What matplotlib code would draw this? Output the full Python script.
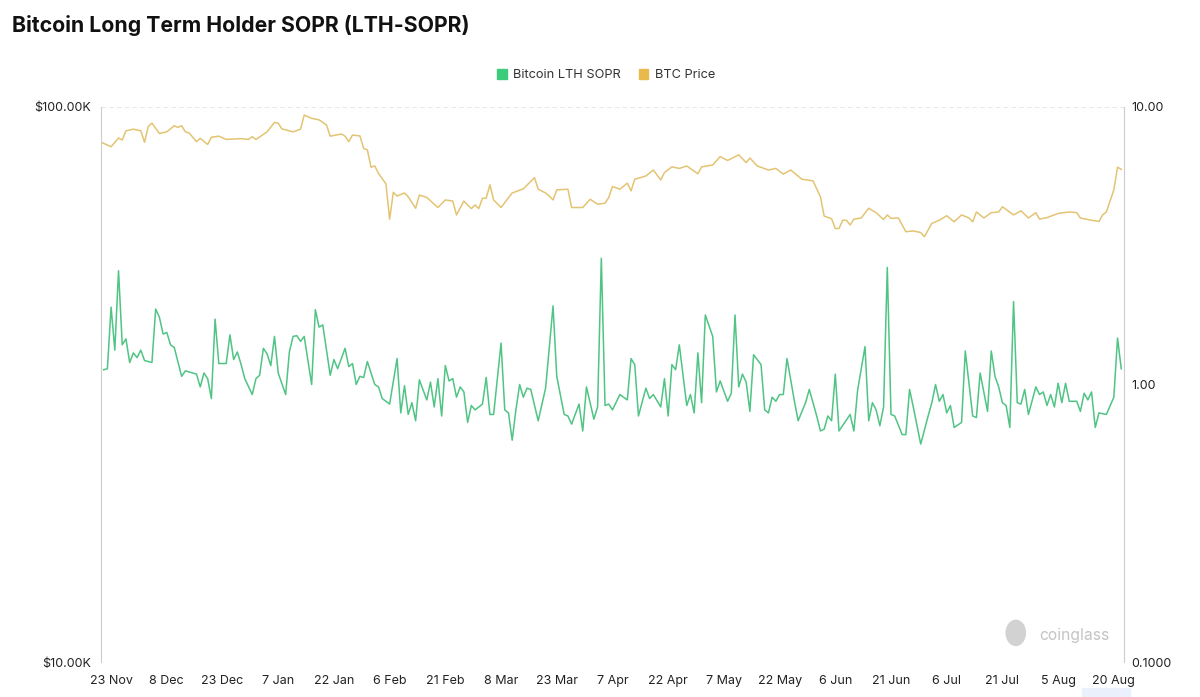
import matplotlib.pyplot as plt
import matplotlib.dates as mdates
from matplotlib.patches import Patch, Ellipse, Rectangle
import numpy as np

# BTC price (USD)
price_dates = [
    "2024-11-20", "2024-11-23", "2024-11-25", "2024-11-26", "2024-11-27", "2024-11-29",
    "2024-12-01", "2024-12-02", "2024-12-03", "2024-12-04", "2024-12-06", "2024-12-08",
    "2024-12-10", "2024-12-11", "2024-12-12", "2024-12-13", "2024-12-14", "2024-12-16",
    "2024-12-17", "2024-12-19", "2024-12-20", "2024-12-22", "2024-12-24", "2024-12-28",
    "2024-12-30", "2024-12-31", "2025-01-01", "2025-01-04", "2025-01-06", "2025-01-07",
    "2025-01-08", "2025-01-11", "2025-01-13", "2025-01-14", "2025-01-16", "2025-01-18",
    "2025-01-20", "2025-01-21", "2025-01-24", "2025-01-25", "2025-01-26", "2025-01-27",
    "2025-01-29", "2025-01-30", "2025-01-31", "2025-02-01", "2025-02-02", "2025-02-03",
    "2025-02-05", "2025-02-06", "2025-02-07", "2025-02-08", "2025-02-10", "2025-02-11",
    "2025-02-13", "2025-02-14", "2025-02-16", "2025-02-19", "2025-02-21", "2025-02-23",
    "2025-02-24", "2025-02-26", "2025-02-27", "2025-02-28", "2025-03-01", "2025-03-02",
    "2025-03-03", "2025-03-04", "2025-03-05", "2025-03-06", "2025-03-08", "2025-03-11",
    "2025-03-14", "2025-03-17", "2025-03-18", "2025-03-20", "2025-03-21", "2025-03-22",
    "2025-03-23", "2025-03-26", "2025-03-27", "2025-03-30", "2025-04-01", "2025-04-03",
    "2025-04-05", "2025-04-06", "2025-04-07", "2025-04-09", "2025-04-11", "2025-04-12",
    "2025-04-13", "2025-04-16", "2025-04-18", "2025-04-20", "2025-04-21", "2025-04-23",
    "2025-04-25", "2025-04-27", "2025-04-30", "2025-05-01", "2025-05-04", "2025-05-06",
    "2025-05-08", "2025-05-11", "2025-05-13", "2025-05-14", "2025-05-16", "2025-05-19",
    "2025-05-21", "2025-05-23", "2025-05-25", "2025-05-28", "2025-05-31", "2025-06-02",
    "2025-06-03", "2025-06-05", "2025-06-06", "2025-06-07", "2025-06-08", "2025-06-09",
    "2025-06-10", "2025-06-11", "2025-06-13", "2025-06-15", "2025-06-17", "2025-06-19",
    "2025-06-20", "2025-06-21", "2025-06-23", "2025-06-25", "2025-06-27", "2025-06-29",
    "2025-06-30", "2025-07-02", "2025-07-04", "2025-07-06", "2025-07-08", "2025-07-10",
    "2025-07-12", "2025-07-13", "2025-07-14", "2025-07-16", "2025-07-18", "2025-07-20",
    "2025-07-21", "2025-07-24", "2025-07-26", "2025-07-28", "2025-07-30", "2025-07-31",
    "2025-08-02", "2025-08-05", "2025-08-08", "2025-08-10", "2025-08-11", "2025-08-14",
    "2025-08-16", "2025-08-17", "2025-08-18", "2025-08-20", "2025-08-21", "2025-08-22",
]
price_values = [
    86600, 84800, 87900, 87200, 90600, 91200,
    90600, 86400, 92200, 93500, 89600, 90200,
    92500, 91900, 92500, 90200, 89800, 86600,
    87800, 85600, 88200, 88600, 87400, 87700,
    87400, 88400, 87400, 90200, 93800, 93500,
    91300, 90200, 91200, 96700, 95400, 94800,
    92800, 88600, 89400, 88600, 86600, 89000,
    88700, 84200, 83700, 77900, 78300, 75900,
    72700, 62800, 70200, 69100, 70000, 68900,
    65700, 69400, 68700, 65900, 68000, 67700,
    63900, 67700, 66600, 65600, 66600, 65600,
    68500, 68500, 72400, 68000, 65900, 70000,
    71200, 74600, 71100, 70000, 69100, 68000,
    70900, 71100, 65900, 65900, 68200, 66800,
    67100, 68700, 71900, 71100, 72900, 70600,
    74100, 75100, 77000, 73900, 76200, 78000,
    77500, 78300, 75800, 78000, 78600, 81400,
    80100, 82000, 79400, 80900, 78300, 77000,
    77500, 75700, 77000, 74100, 73600, 68900,
    63600, 62900, 60400, 60400, 62500, 62500,
    61300, 62800, 63100, 65700, 64500, 62700,
    63900, 63000, 63100, 59600, 59800, 59400,
    58400, 61700, 62500, 63700, 62100, 63900,
    63100, 62100, 64700, 63100, 64500, 64700,
    66100, 63900, 65000, 63100, 64500, 62800,
    63200, 64300, 64700, 64500, 63100, 62500,
    62200, 63900, 64700, 70900, 77900, 77200,
]

# Bitcoin LTH SOPR
sopr_dates = [
    "2024-11-21", "2024-11-22", "2024-11-23", "2024-11-24", "2024-11-25", "2024-11-26",
    "2024-11-27", "2024-11-28", "2024-11-29", "2024-11-30", "2024-12-01", "2024-12-02",
    "2024-12-04", "2024-12-05", "2024-12-06", "2024-12-07", "2024-12-08", "2024-12-09",
    "2024-12-10", "2024-12-12", "2024-12-13", "2024-12-16", "2024-12-17", "2024-12-18",
    "2024-12-19", "2024-12-20", "2024-12-21", "2024-12-22", "2024-12-24", "2024-12-25",
    "2024-12-26", "2024-12-27", "2024-12-28", "2024-12-29", "2024-12-31", "2025-01-01",
    "2025-01-02", "2025-01-03", "2025-01-04", "2025-01-05", "2025-01-06", "2025-01-07",
    "2025-01-09", "2025-01-10", "2025-01-11", "2025-01-12", "2025-01-13", "2025-01-14",
    "2025-01-16", "2025-01-17", "2025-01-18", "2025-01-19", "2025-01-21", "2025-01-22",
    "2025-01-23", "2025-01-25", "2025-01-26", "2025-01-27", "2025-01-28", "2025-01-29",
    "2025-01-30", "2025-01-31", "2025-02-02", "2025-02-03", "2025-02-04", "2025-02-06",
    "2025-02-08", "2025-02-09", "2025-02-10", "2025-02-11", "2025-02-12", "2025-02-13",
    "2025-02-14", "2025-02-16", "2025-02-17", "2025-02-18", "2025-02-19", "2025-02-20",
    "2025-02-21", "2025-02-22", "2025-02-23", "2025-02-24", "2025-02-25", "2025-02-26",
    "2025-02-27", "2025-02-28", "2025-03-01", "2025-03-03", "2025-03-04", "2025-03-05",
    "2025-03-06", "2025-03-08", "2025-03-09", "2025-03-10", "2025-03-11", "2025-03-12",
    "2025-03-13", "2025-03-14", "2025-03-15", "2025-03-16", "2025-03-18", "2025-03-20",
    "2025-03-22", "2025-03-23", "2025-03-25", "2025-03-26", "2025-03-27", "2025-03-29",
    "2025-03-30", "2025-03-31", "2025-04-02", "2025-04-03", "2025-04-04", "2025-04-05",
    "2025-04-06", "2025-04-07", "2025-04-09", "2025-04-11", "2025-04-12", "2025-04-13",
    "2025-04-14", "2025-04-16", "2025-04-17", "2025-04-18", "2025-04-20", "2025-04-21",
    "2025-04-22", "2025-04-23", "2025-04-24", "2025-04-25", "2025-04-27", "2025-04-28",
    "2025-04-29", "2025-04-30", "2025-05-01", "2025-05-02", "2025-05-04", "2025-05-05",
    "2025-05-06", "2025-05-08", "2025-05-09", "2025-05-10", "2025-05-11", "2025-05-12",
    "2025-05-13", "2025-05-14", "2025-05-15", "2025-05-17", "2025-05-18", "2025-05-19",
    "2025-05-20", "2025-05-21", "2025-05-22", "2025-05-23", "2025-05-24", "2025-05-26",
    "2025-05-27", "2025-05-29", "2025-05-30", "2025-06-01", "2025-06-02", "2025-06-03",
    "2025-06-04", "2025-06-05", "2025-06-06", "2025-06-07", "2025-06-10", "2025-06-11",
    "2025-06-12", "2025-06-14", "2025-06-15", "2025-06-16", "2025-06-17", "2025-06-18",
    "2025-06-19", "2025-06-20", "2025-06-21", "2025-06-22", "2025-06-24", "2025-06-25",
    "2025-06-26", "2025-06-27", "2025-06-29", "2025-07-01", "2025-07-02", "2025-07-03",
    "2025-07-04", "2025-07-05", "2025-07-06", "2025-07-07", "2025-07-08", "2025-07-10",
    "2025-07-11", "2025-07-13", "2025-07-14", "2025-07-15", "2025-07-17", "2025-07-18",
    "2025-07-19", "2025-07-20", "2025-07-21", "2025-07-22", "2025-07-23", "2025-07-24",
    "2025-07-25", "2025-07-26", "2025-07-27", "2025-07-28", "2025-07-30", "2025-07-31",
    "2025-08-01", "2025-08-02", "2025-08-03", "2025-08-04", "2025-08-05", "2025-08-06",
    "2025-08-07", "2025-08-08", "2025-08-10", "2025-08-11", "2025-08-12", "2025-08-13",
    "2025-08-14", "2025-08-15", "2025-08-16", "2025-08-18", "2025-08-20", "2025-08-21",
    "2025-08-22",
]
sopr_values = [
    1.13, 1.14, 1.90, 1.33, 2.57, 1.39,
    1.46, 1.20, 1.30, 1.25, 1.33, 1.22,
    1.20, 1.87, 1.75, 1.52, 1.54, 1.39,
    1.36, 1.07, 1.12, 1.09, 0.98, 1.10,
    1.05, 0.89, 1.72, 1.19, 1.19, 1.51,
    1.23, 1.31, 1.18, 1.05, 0.92, 1.05,
    1.08, 1.35, 1.29, 1.17, 1.49, 1.10,
    0.92, 1.31, 1.49, 1.50, 1.43, 1.49,
    1.00, 1.86, 1.61, 1.64, 1.08, 1.23,
    1.14, 1.35, 1.16, 1.19, 1.00, 1.07,
    1.06, 1.21, 1.00, 0.98, 0.89, 0.85,
    1.24, 0.79, 0.99, 0.78, 0.86, 0.74,
    1.04, 0.88, 1.02, 0.83, 1.05, 0.77,
    1.17, 1.03, 1.05, 0.90, 0.98, 0.94,
    0.73, 0.84, 0.81, 0.85, 1.06, 0.78,
    0.78, 1.41, 0.81, 0.79, 0.63, 0.81,
    1.00, 0.90, 0.97, 0.96, 0.74, 0.97,
    1.92, 1.07, 0.78, 0.77, 0.72, 0.85,
    0.68, 0.98, 0.75, 0.83, 2.85, 0.84,
    0.85, 0.81, 0.92, 0.88, 1.24, 1.18,
    0.77, 0.97, 0.89, 0.92, 0.83, 1.05,
    0.77, 1.18, 1.13, 1.39, 0.84, 0.92,
    0.79, 1.30, 0.86, 1.78, 1.49, 0.94,
    1.03, 0.87, 0.93, 1.78, 0.98, 1.09,
    1.02, 0.80, 1.28, 1.18, 0.81, 0.79,
    0.90, 0.87, 0.92, 0.92, 1.24, 0.87,
    0.74, 0.86, 0.96, 0.77, 0.68, 0.69,
    0.77, 0.74, 1.09, 0.68, 0.78, 0.68,
    0.95, 1.37, 0.74, 0.86, 0.81, 0.71,
    0.83, 2.64, 0.78, 0.77, 0.66, 0.66,
    0.96, 0.83, 0.61, 0.77, 0.86, 1.00,
    0.87, 0.92, 0.79, 0.84, 0.70, 0.73,
    1.32, 0.77, 0.76, 1.10, 0.80, 1.32,
    1.07, 0.98, 0.86, 0.84, 0.70, 1.99,
    0.86, 0.85, 0.96, 0.78, 0.98, 0.92,
    0.94, 0.84, 0.92, 0.83, 1.01, 0.86,
    1.01, 0.87, 0.87, 0.80, 0.93, 0.88,
    0.94, 0.70, 0.79, 0.78, 0.90, 1.47,
    1.14,
]

tick_dates = [
    "2024-11-23", "2024-12-08", "2024-12-23", "2025-01-07", "2025-01-22",
    "2025-02-06", "2025-02-21", "2025-03-08", "2025-03-23", "2025-04-07",
    "2025-04-22", "2025-05-07", "2025-05-22", "2025-06-06", "2025-06-21",
    "2025-07-06", "2025-07-21", "2025-08-05", "2025-08-20",
]

plt.rcParams['font.family'] = ['Inter', 'DejaVu Sans']

fig = plt.figure(figsize=(12, 6.97), dpi=100)
ax = fig.add_axes([0.0842, 0.0502, 0.8525, 0.7963])
ax2 = ax.twinx()

px = np.array(price_dates, dtype='datetime64[D]')
sx = np.array(sopr_dates, dtype='datetime64[D]')

ax.plot(px, price_values, color='#e3c473', lw=1.1, solid_joinstyle='round')
ax2.plot(sx, sopr_values, color='#4fc484', lw=1.1, solid_joinstyle='round')

# left axis: price, log
ax.set_yscale('log')
ax.set_ylim(1e4, 1e5)
ax.set_yticks([1e4, 1e5])
ax.set_yticklabels(['$10.00K', '$100.00K'])
ax.yaxis.set_minor_locator(plt.NullLocator())
ax.grid(axis='y', linestyle=(0, (4, 3)), color='#e8e8e8', lw=0.8)

# right axis: SOPR, log
ax2.set_yscale('log')
ax2.set_ylim(0.1, 10)
ax2.set_yticks([0.1, 1, 10])
ax2.set_yticklabels(['0.1000', '1.00', '10.00'])
ax2.yaxis.set_minor_locator(plt.NullLocator())

ax.set_xlim(np.datetime64('2024-11-20T07:00'), np.datetime64('2025-08-22T18:00'))
ax.set_xticks(np.array(tick_dates, dtype='datetime64[D]'))
ax.xaxis.set_major_formatter(mdates.DateFormatter('%-d %b'))
ax.xaxis.set_minor_locator(plt.NullLocator())

for a in (ax, ax2):
    a.spines['top'].set_visible(False)
    a.spines['bottom'].set_visible(False)
    a.tick_params(length=0, labelsize=9, colors='#222222')
ax.spines['left'].set_color('#cccccc')
ax.spines['right'].set_visible(False)
ax2.spines['left'].set_visible(False)
ax2.spines['right'].set_color('#cccccc')
ax.tick_params(axis='y', pad=7)
ax.tick_params(axis='x', pad=9)
ax2.tick_params(axis='y', pad=5)

fig.text(0.01, 0.963, 'Bitcoin Long Term Holder SOPR (LTH-SOPR)',
         fontsize=15.3, fontweight='bold', va='center', color='#111111')

handles = [Patch(color='#3dcb7c', label='Bitcoin LTH SOPR'),
           Patch(color='#e9b94c', label='BTC Price')]
fig.legend(handles=handles, loc='center', bbox_to_anchor=(0.505, 0.892), ncol=2,
           frameon=False, fontsize=9.2, handlelength=0.75, handleheight=0.75,
           handletextpad=0.5, columnspacing=1.4, labelcolor='#333333')

# watermark
fig.patches.append(Ellipse((0.8465, 0.092), 0.016, 0.036, transform=fig.transFigure,
                           color='#d2d2d2', zorder=0))
fig.text(0.866, 0.088, 'coinglass', fontsize=11.3, color='#c4c4c4', va='center')
fig.patches.append(Rectangle((0.902, 0.0), 0.04, 0.013, transform=fig.transFigure,
                             color='#eaf1fd', zorder=0))

fig.savefig('out.png', dpi=100)
